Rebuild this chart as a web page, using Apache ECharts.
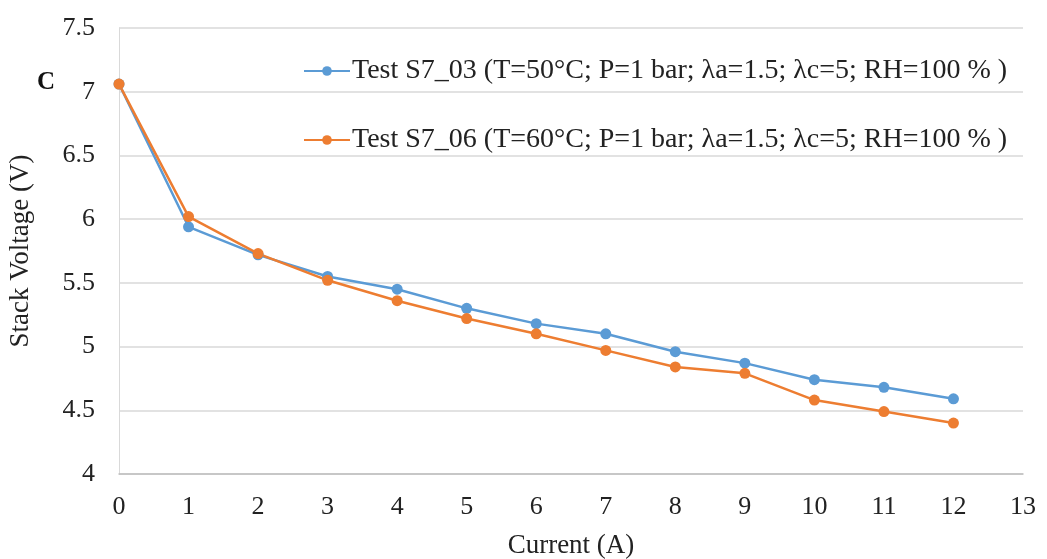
<!DOCTYPE html>
<html><head><meta charset="utf-8">
<script src="https://cdn.jsdelivr.net/npm/echarts@6/dist/echarts.min.js"></script>
<style>html,body{margin:0;padding:0;background:#fff}#c{width:1047px;height:559px}</style>
</head><body><div id="c"></div>
<script>
const current = [0,1,2,3,4,5,6,7,8,9,10,11,12];
const s703 = [7.06,5.94,5.72,5.55,5.45,5.30,5.18,5.10,4.96,4.87,4.74,4.68,4.59];
const s706 = [7.06,6.02,5.73,5.52,5.36,5.22,5.10,4.97,4.84,4.79,4.58,4.49,4.40];
const seriesNames = ['Test S7_03 (T=50°C; P=1 bar; λa=1.5; λc=5; RH=100 % )','Test S7_06 (T=60°C; P=1 bar; λa=1.5; λc=5; RH=100 % )'];
const font = '"Liberation Serif", "DejaVu Serif", serif';
const chart = echarts.init(document.getElementById('c'));
function pts(v){return current.map((x,i)=>[x,v[i]]);}
chart.setOption({
  animation:false,
  textStyle:{fontFamily:font},
  graphic:[{type:'text',left:37,top:70,style:{text:'C',font:'bold 25px '+font,fill:'#111'}}],
  grid:{left:119,right:24,top:28,bottom:85,containLabel:false,outerBoundsMode:'none'},
  legend:{orient:'vertical',left:298,top:52,itemGap:41,itemWidth:46,itemHeight:12,
    textStyle:{fontFamily:font,fontSize:28,color:'#222',padding:[0,0,0,-3]},
    data:seriesNames},
  xAxis:{type:'value',min:0,max:13,interval:1,name:'Current (A)',nameLocation:'middle',nameGap:58,
    nameTextStyle:{fontFamily:font,fontSize:27,color:'#222'},
    axisLine:{show:true,lineStyle:{color:'#bfbfbf',width:1.5}},axisTick:{show:false},
    axisLabel:{fontFamily:font,fontSize:26,color:'#222',margin:20},splitLine:{show:false}},
  yAxis:{type:'value',min:4,max:7.5,interval:0.5,name:'Stack Voltage (V)',nameLocation:'middle',nameGap:85,
    nameTextStyle:{fontFamily:font,fontSize:27,color:'#222'},
    axisLine:{show:true,lineStyle:{color:'#d9d9d9'}},axisTick:{show:false},
    axisLabel:{fontFamily:font,fontSize:26,color:'#222',margin:24},
    splitLine:{lineStyle:{color:'#d9d9d9',width:1.5}}},
  series:[
    {name:seriesNames[0],type:'line',data:pts(s703),symbol:'circle',symbolSize:11,
     itemStyle:{color:'#5B9BD5'},lineStyle:{color:'#5B9BD5',width:2.5}},
    {name:seriesNames[1],type:'line',data:pts(s706),symbol:'circle',symbolSize:11,
     itemStyle:{color:'#ED7D31'},lineStyle:{color:'#ED7D31',width:2.5}}
  ]
});
</script></body></html>
